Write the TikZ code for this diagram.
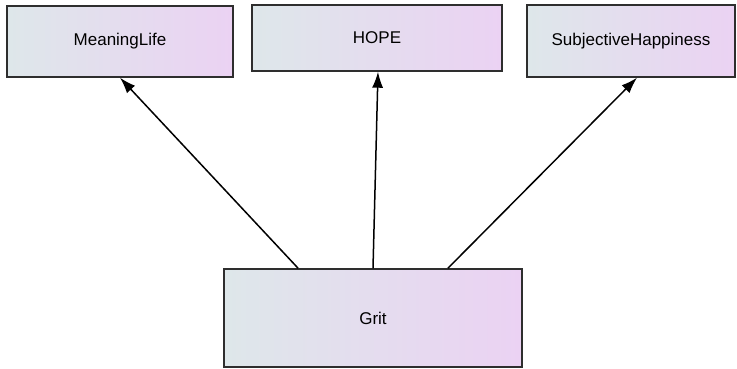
\documentclass[tikz,border=0pt]{standalone}
\usepackage{fontspec}
\setmainfont{Liberation Sans}
\usetikzlibrary{arrows.meta,calc}
\definecolor{gradL}{HTML}{DEE7EA}
\definecolor{gradR}{HTML}{EBD2F3}
\definecolor{edgeC}{HTML}{2E2E2E}
\tikzset{
  var/.style={draw=edgeC, line width=1.4pt, left color=gradL, right color=gradR,
    inner sep=0pt, font=\fontsize{17}{20}\selectfont},
  link/.style={line width=1.5pt, -{Latex[length=16pt,width=11pt]}}
}
\begin{document}
\begin{tikzpicture}[x=1pt,y=-1pt]
\useasboundingbox (0,0) rectangle (737,368);
\node[var, minimum width=226pt, minimum height=71pt] (ml) at (120,41.5) {MeaningLife};
\node[var, minimum width=250pt, minimum height=66pt] (hope) at (377,38) {HOPE};
\node[var, minimum width=208pt, minimum height=72pt] (sh) at (631,41) {SubjectiveHappiness};
\node[var, minimum width=298pt, minimum height=98pt] (grit) at (373,318) {Grit};
\draw[link] ($(grit.north west)!0.25!(grit.north east)$) -- (ml.south);
\draw[link] (grit.north) -- ($(hope.south)+(1,0)$);
\draw[link] ($(grit.north west)!0.75!(grit.north east)$) -- ($(sh.south)+(6,0)$);
\end{tikzpicture}
\end{document}
